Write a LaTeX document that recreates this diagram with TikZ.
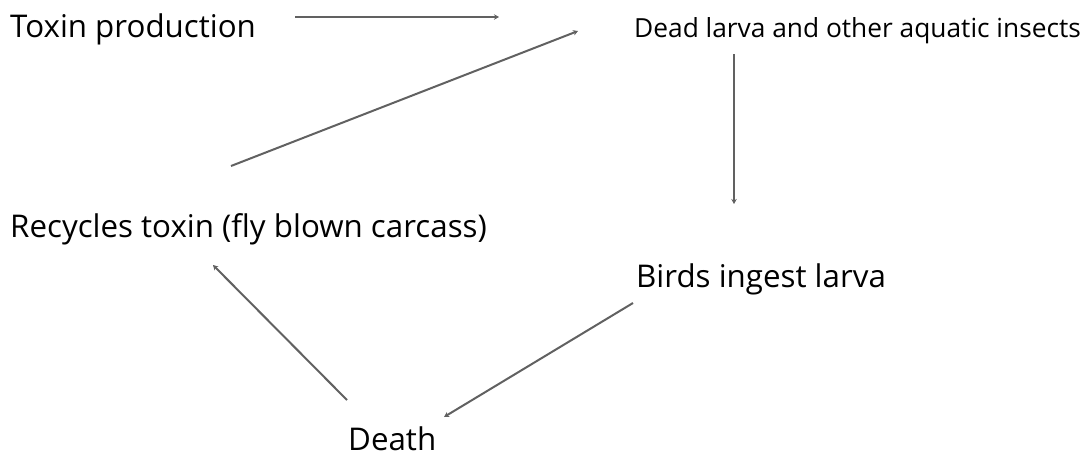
\documentclass[tikz,border=0pt]{standalone}
\usepackage{fontspec}
\setmainfont{Open Sans}
\usetikzlibrary{calc,arrows.meta}
\begin{document}
\begin{tikzpicture}[x=1pt,y=-1pt,
  lbl/.style={anchor=base west,inner sep=0pt,text=black,font=\fontsize{31.3}{36}\selectfont},
  lblsmall/.style={lbl,font=\fontsize{26.3}{30}\selectfont},
  conn/.style={draw=black!62,line width=2pt,-{Stealth[length=5pt,width=5.5pt,fill=black!85]}}]
\useasboundingbox (0,0) rectangle (1091,458);
\node[lbl] (toxin) at (10,37) {Toxin production};
\node[lblsmall] (dead) at (634,37) {Dead larva and other aquatic insects};
\node[lbl] (recycle) at (10,237) {Recycles toxin (fly blown carcass)};
\node[lbl] (birds) at (636,287) {Birds ingest larva};
\node[lbl] (death) at (348,450) {Death};
% connector end points
\coordinate (a1) at (295,17);
\coordinate (a2) at (499,17);
\coordinate (b1) at (231,166);
\coordinate (b2) at (578,31);
\coordinate (c1) at (734,54);
\coordinate (c2) at (734,204);
\coordinate (d1) at (633,303);
\coordinate (d2) at (444,417);
\coordinate (e1) at (347,400);
\coordinate (e2) at (213,265);
\draw[conn] (a1) -- (a2);
\draw[conn] (b1) -- (b2);
\draw[conn] (c1) -- (c2);
\draw[conn] (d1) -- (d2);
\draw[conn] (e1) -- (e2);
\end{tikzpicture}
\end{document}
